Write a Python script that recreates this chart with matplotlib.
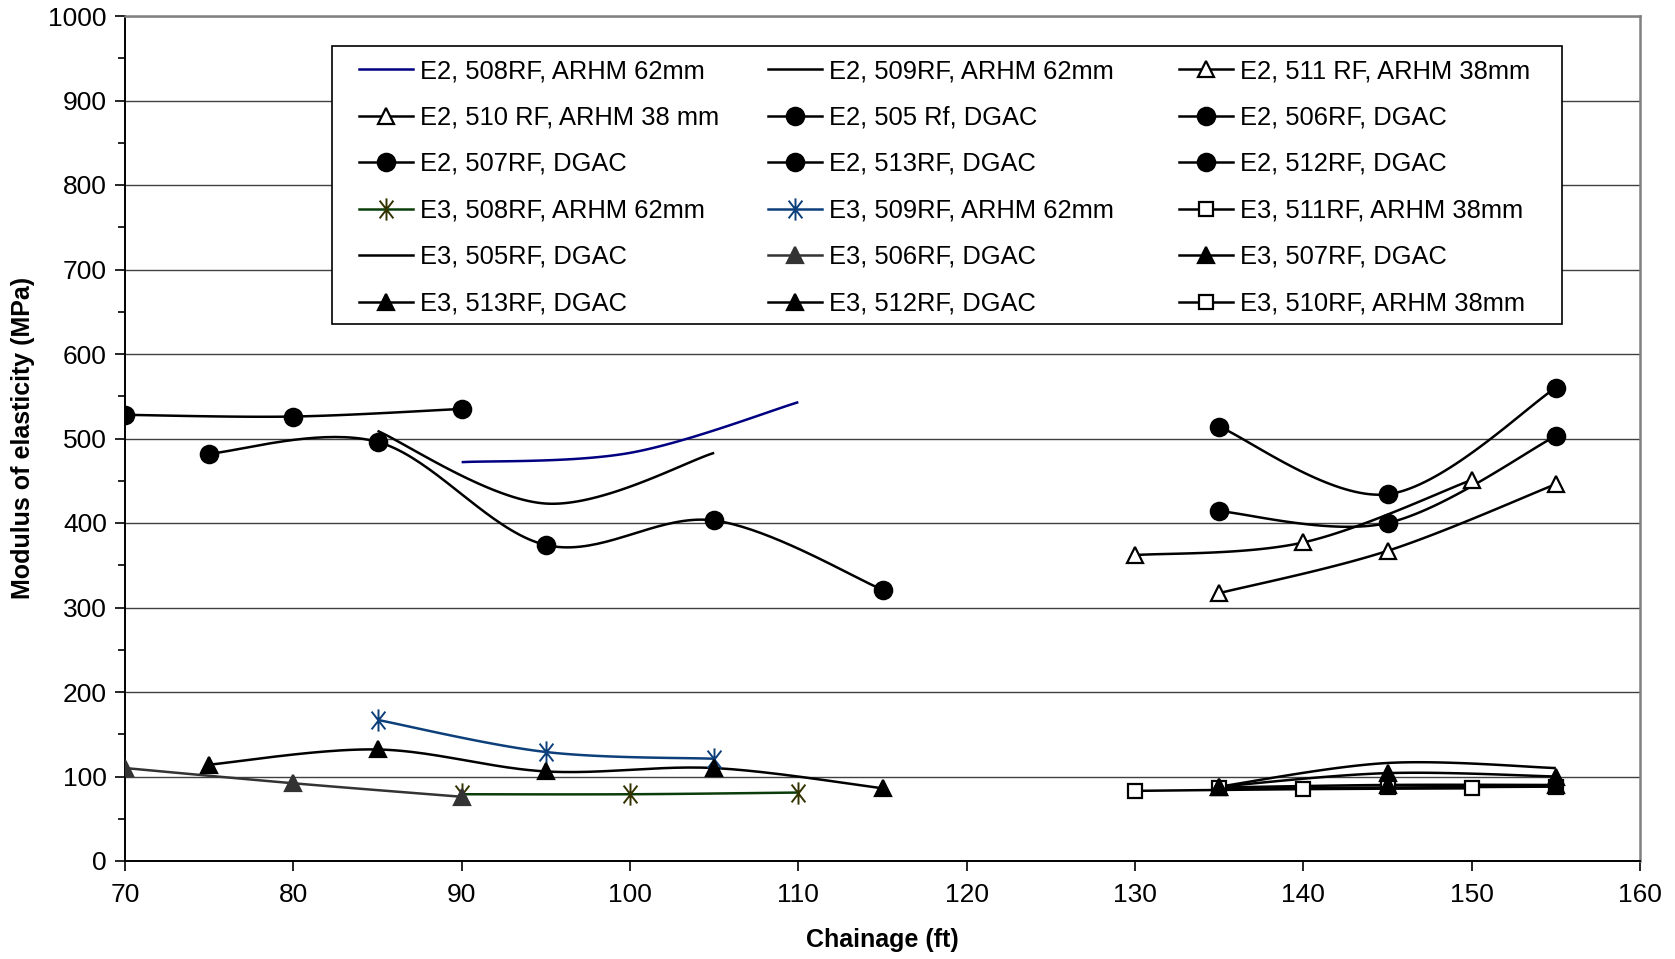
import numpy as np
import matplotlib
matplotlib.use("Agg")
import matplotlib.pyplot as plt
from matplotlib.patches import Rectangle
from matplotlib.lines import Line2D
from matplotlib.path import Path

plt.rcParams['font.family'] = ['Liberation Sans', 'DejaVu Sans']

# ---------------- data ----------------
e2_508_x = [90, 100, 110];            e2_508_y = [472, 483, 543]
e2_509_x = [85, 95, 105];             e2_509_y = [509, 423, 483]
e2_511_x = [130, 140, 150];           e2_511_y = [362, 377, 451]
e2_510_x = [135, 145, 155];           e2_510_y = [317, 367, 446]
e2_505_x = [70, 80, 90];              e2_505_y = [528, 526, 535]
e2_506_x = [75, 85, 95, 105, 115];    e2_506_y = [482, 496, 374, 403, 321]
e2_507_x = [135, 145, 155];           e2_507_y = [514, 434, 560]
e2_513_x = [135, 145, 155];           e2_513_y = [414, 400, 503]
e2_512_x = [];                        e2_512_y = []
e3_508_x = [90, 100, 110];            e3_508_y = [79, 79, 81]
e3_509_x = [85, 95, 105];             e3_509_y = [167, 129, 121]
e3_511_x = [135, 145, 155];           e3_511_y = [86, 87, 88]
e3_505_x = [135, 145, 155];           e3_505_y = [88, 116, 110]
e3_506_x = [70, 80, 90];              e3_506_y = [110, 92, 76]
e3_507_x = [135, 145, 155];           e3_507_y = [88, 104, 100]
e3_513_x = [75, 85, 95, 105, 115];    e3_513_y = [114, 132, 106, 110, 86]
e3_512_x = [135, 145, 155];           e3_512_y = [87, 90, 90]
e3_510_x = [130, 140, 150];           e3_510_y = [83, 85, 86]

x_ticks = [70, 80, 90, 100, 110, 120, 130, 140, 150, 160]
y_ticks = [0, 100, 200, 300, 400, 500, 600, 700, 800, 900, 1000]
x_label = "Chainage (ft)"
y_label = "Modulus of elasticity (MPa)"

# Excel-style asterisk: vertical bar plus an X
STAR = Path([(0, -1), (0, 1), (-0.62, -0.8), (0.62, 0.8), (-0.62, 0.8), (0.62, -0.8)],
            [Path.MOVETO, Path.LINETO, Path.MOVETO, Path.LINETO, Path.MOVETO, Path.LINETO])

# label, x, y, line color, marker, marker face, marker edge, marker size
series = [
    ("E2, 508RF, ARHM 62mm", e2_508_x, e2_508_y, "#000080", None, None, None, 0),
    ("E2, 509RF, ARHM 62mm", e2_509_x, e2_509_y, "black", None, None, None, 0),
    ("E2, 511 RF, ARHM 38mm", e2_511_x, e2_511_y, "black", "^", "white", "black", 11),
    ("E2, 510 RF, ARHM 38 mm", e2_510_x, e2_510_y, "black", "^", "white", "black", 11),
    ("E2, 505 Rf, DGAC", e2_505_x, e2_505_y, "black", "o", "black", "black", 12.5),
    ("E2, 506RF, DGAC", e2_506_x, e2_506_y, "black", "o", "black", "black", 12.5),
    ("E2, 507RF, DGAC", e2_507_x, e2_507_y, "black", "o", "black", "black", 12.5),
    ("E2, 513RF, DGAC", e2_513_x, e2_513_y, "black", "o", "black", "black", 12.5),
    ("E2, 512RF, DGAC", e2_512_x, e2_512_y, "black", "o", "black", "black", 12.5),
    ("E3, 508RF, ARHM 62mm", e3_508_x, e3_508_y, "#0b3d0b", STAR, "#333300", "#333300", 16),
    ("E3, 509RF, ARHM 62mm", e3_509_x, e3_509_y, "#0d3f7a", STAR, "#0d3f7a", "#0d3f7a", 16),
    ("E3, 511RF, ARHM 38mm", e3_511_x, e3_511_y, "black", "s", "white", "black", 10),
    ("E3, 505RF, DGAC", e3_505_x, e3_505_y, "black", None, None, None, 0),
    ("E3, 506RF, DGAC", e3_506_x, e3_506_y, "#333333", "^", "#333333", "#333333", 11.5),
    ("E3, 507RF, DGAC", e3_507_x, e3_507_y, "black", "^", "black", "black", 11.5),
    ("E3, 513RF, DGAC", e3_513_x, e3_513_y, "black", "^", "black", "black", 11.5),
    ("E3, 512RF, DGAC", e3_512_x, e3_512_y, "black", "^", "black", "black", 11.5),
    ("E3, 510RF, ARHM 38mm", e3_510_x, e3_510_y, "black", "s", "white", "black", 10),
]


def excel_smooth(x, y, n=40):
    pts = np.column_stack([np.asarray(x, float), np.asarray(y, float)])
    m = len(pts)
    if m < 2:
        return pts[:, 0], pts[:, 1]
    t = np.linspace(0, 1, n)[:, None]
    out = []
    for i in range(m - 1):
        p0 = pts[i - 1] if i > 0 else pts[i]
        p1 = pts[i]
        p2 = pts[i + 1]
        p3 = pts[i + 2] if i + 2 < m else pts[i + 1]
        c1 = p1 + (p2 - p0) / 6.0
        c2 = p2 - (p3 - p1) / 6.0
        seg = ((1 - t) ** 3) * p1 + 3 * ((1 - t) ** 2) * t * c1 + 3 * (1 - t) * t ** 2 * c2 + t ** 3 * p2
        out.append(seg if i == 0 else seg[1:])
    out = np.vstack(out)
    return out[:, 0], out[:, 1]


W, H = 1675, 959
fig = plt.figure(figsize=(W / 100, H / 100), dpi=100)
L, R, T, B = 125, 1640, 16, 861
ax = fig.add_axes([L / W, 1 - B / H, (R - L) / W, (B - T) / H])

ax.set_xlim(70, 160)
ax.set_ylim(0, 1000)
ax.set_xticks(x_ticks)
ax.set_yticks(y_ticks)
ax.set_yticks(np.arange(50, 1000, 100), minor=True)
ax.tick_params(axis='both', which='major', direction='out', length=7, width=1.2,
               labelsize=19, colors='black')
ax.tick_params(axis='y', which='minor', direction='out', length=5, width=1.2)
ax.tick_params(axis='y', pad=6)
ax.tick_params(axis='x', pad=9)
ax.grid(axis='y', which='major', color='#404040', linewidth=1.0, zorder=0)
ax.set_axisbelow(True)
for s in ['left', 'bottom']:
    ax.spines[s].set_color('black')
    ax.spines[s].set_linewidth(1.4)
for s in ['top', 'right']:
    ax.spines[s].set_color('#808080')
    ax.spines[s].set_linewidth(1.8)

handles = []
for lab, xs, ys, lc, mk, mf, me, ms in series:
    sx, sy = excel_smooth(xs, ys)
    mew = 1.4 if mk is STAR else 1.6
    if len(xs):
        ax.plot(sx, sy, color=lc, linewidth=1.8, zorder=3, solid_capstyle='butt')
        if mk is not None:
            ax.plot(xs, ys, linestyle='none', marker=mk, markersize=ms,
                    markerfacecolor=mf, markeredgecolor=me,
                    markeredgewidth=mew, zorder=4)
    h = Line2D([], [], color=lc, linewidth=1.8,
               marker=mk if mk is not None else None,
               markersize=ms, markerfacecolor=mf, markeredgecolor=me,
               markeredgewidth=mew)
    handles.append((h, lab))

# legend frame
fx0, fx1, fy0, fy1 = 332, 1562, 46, 324
fig.patches.append(Rectangle((fx0 / W, 1 - fy1 / H), (fx1 - fx0) / W, (fy1 - fy0) / H,
                             transform=fig.transFigure, facecolor='white',
                             edgecolor='black', linewidth=1.2, zorder=5))

col_x = [359, 768, 1179]
for c in range(3):
    hs = [handles[r * 3 + c][0] for r in range(6)]
    ls = [handles[r * 3 + c][1] for r in range(6)]
    leg = fig.legend(hs, ls, loc='upper left',
                     bbox_to_anchor=(col_x[c] / W, 1 - 59 / H),
                     bbox_transform=fig.transFigure,
                     frameon=False, fontsize=18.4, borderpad=0,
                     handlelength=2.1, handletextpad=0.3,
                     labelspacing=0.88, numpoints=1, borderaxespad=0)
    leg.set_zorder(6)

fig.text(882 / W, 1 - 940 / H, x_label, ha='center', va='center',
         fontsize=18, fontweight='bold')
fig.text(23 / W, 1 - 438 / H, y_label, ha='center', va='center',
         rotation=90, fontsize=18, fontweight='bold')

fig.savefig("out.png", dpi=100)
